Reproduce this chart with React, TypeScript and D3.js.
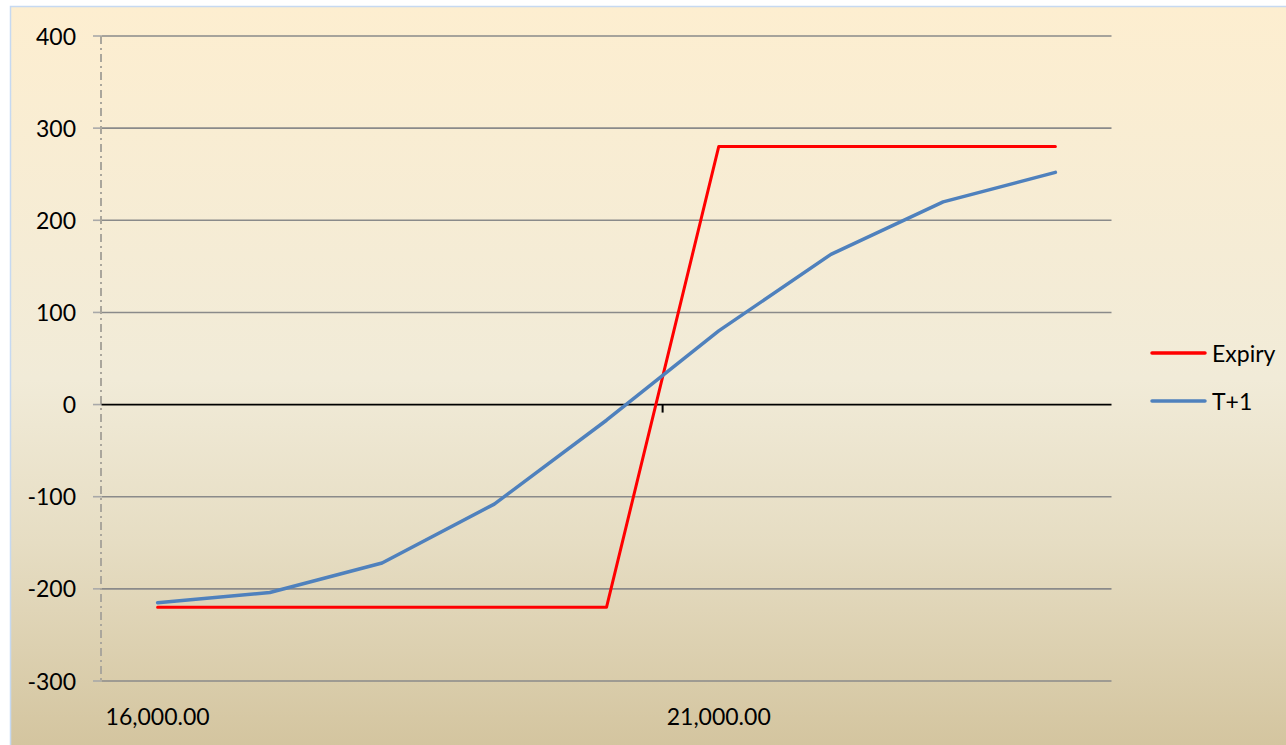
import * as d3 from 'd3';
import * as React from 'react';

const strikes = [16000, 17000, 18000, 19000, 20000, 21000, 22000, 23000, 24000];
const expiry = [-220, -220, -220, -220, -220, 280, 280, 280, 280];
const tPlus1 = [-215, -204, -172, -108, -17, 80, 163, 220, 252];
const yTicks = [-300, -200, -100, 0, 100, 200, 300, 400];
const xLabelIdx = [0, 5];
const seriesNames = ['Expiry', 'T+1'];
const seriesColors = ['#ff0000', '#4f81bd'];

const W = 1286;
const H = 745;

const PayoffChart = () => {
  const ref = React.useRef<SVGSVGElement | null>(null);

  React.useEffect(() => {
    if (!ref.current) return;
    const svg = d3.select(ref.current);
    svg.selectAll('*').remove();

    const font = 'Lato, "Open Sans", sans-serif';

    // background gradient
    const defs = svg.append('defs');
    const grad = defs
      .append('linearGradient')
      .attr('id', 'bg')
      .attr('x1', 0)
      .attr('y1', 0)
      .attr('x2', 0)
      .attr('y2', 1);
    [
      [0, '#fdeed0'],
      [0.5, '#f1ebd8'],
      [0.72, '#e6ddc3'],
      [1, '#d3c49e'],
    ].forEach(([o, c]) => grad.append('stop').attr('offset', o).attr('stop-color', c));

    svg.append('rect').attr('width', W).attr('height', H).attr('fill', '#fff');
    svg
      .append('rect')
      .attr('x', 10.5)
      .attr('y', 6.5)
      .attr('width', W)
      .attr('height', H)
      .attr('fill', 'url(#bg)')
      .attr('stroke', '#c6d9f1')
      .attr('stroke-width', 1.5);

    const x = d3.scaleBand<number>().domain(strikes).range([101.5, 1111.5]);
    const y = d3.scaleLinear().domain([-300, 400]).range([681, 36]);
    const cx = (d: number) => (x(d) as number) + x.bandwidth() / 2;

    // gridlines
    svg
      .append('g')
      .selectAll('line')
      .data(yTicks.filter((t) => t !== 0))
      .enter()
      .append('line')
      .attr('x1', 101.5)
      .attr('x2', 1111.5)
      .attr('y1', (d) => y(d))
      .attr('y2', (d) => y(d))
      .attr('stroke', '#8a8a8a')
      .attr('stroke-width', 1.6);

    // y tick marks
    svg
      .append('g')
      .selectAll('line')
      .data(yTicks)
      .enter()
      .append('line')
      .attr('x1', 93)
      .attr('x2', 101.5)
      .attr('y1', (d) => y(d))
      .attr('y2', (d) => y(d))
      .attr('stroke', '#a8a8a8')
      .attr('stroke-width', 1.6);

    // vertical axis (dash-dot)
    svg
      .append('line')
      .attr('x1', 101)
      .attr('x2', 101)
      .attr('y1', y(400))
      .attr('y2', y(-300))
      .attr('stroke', '#aaa69c')
      .attr('stroke-width', 2)
      .attr('stroke-dasharray', '8,4,2,4');

    // zero line + category tick
    svg
      .append('line')
      .attr('x1', 101.5)
      .attr('x2', 1111.5)
      .attr('y1', y(0))
      .attr('y2', y(0))
      .attr('stroke', '#000')
      .attr('stroke-width', 1.8);
    svg
      .append('line')
      .attr('x1', x(strikes[5]) as number)
      .attr('x2', x(strikes[5]) as number)
      .attr('y1', y(0))
      .attr('y2', y(0) + 8)
      .attr('stroke', '#000')
      .attr('stroke-width', 2);

    // y labels
    svg
      .append('g')
      .selectAll('text')
      .data(yTicks)
      .enter()
      .append('text')
      .attr('x', 76)
      .attr('y', (d) => y(d) + 8.5)
      .attr('text-anchor', 'end')
      .attr('font-family', font)
      .attr('font-size', 23)
      .attr('fill', '#000')
      .text((d) => String(d));

    // x labels
    svg
      .append('g')
      .selectAll('text')
      .data(xLabelIdx)
      .enter()
      .append('text')
      .attr('x', (i) => cx(strikes[i]))
      .attr('y', 725)
      .attr('text-anchor', 'middle')
      .attr('font-family', font)
      .attr('font-size', 23)
      .attr('fill', '#000')
      .text((i) => d3.format(',.2f')(strikes[i]));

    // series
    const line = d3
      .line<number>()
      .x((_, i) => cx(strikes[i]))
      .y((d) => y(d));

    [expiry, tPlus1].forEach((s, k) => {
      svg
        .append('path')
        .datum(s)
        .attr('d', line)
        .attr('fill', 'none')
        .attr('stroke', seriesColors[k])
        .attr('stroke-width', k === 0 ? 3 : 3.5)
        .attr('stroke-linejoin', 'round')
        .attr('stroke-linecap', 'round');
    });

    // legend
    const legend = svg
      .append('g')
      .selectAll('g')
      .data(seriesNames)
      .enter()
      .append('g')
      .attr('transform', (_, i) => `translate(1152, ${353 + i * 48})`);
    legend
      .append('line')
      .attr('x1', 0)
      .attr('x2', 53)
      .attr('stroke', (_, i) => seriesColors[i])
      .attr('stroke-width', 3.5)
      .attr('stroke-linecap', 'round');
    legend
      .append('text')
      .attr('x', 60)
      .attr('y', 8.5)
      .attr('font-family', font)
      .attr('font-size', 23)
      .attr('fill', '#000')
      .text((d) => d);
  }, []);

  return (
    <svg
      ref={ref}
      width={W}
      height={H}
      style={{ position: 'absolute', left: 0, top: 0, display: 'block' }}
    />
  );
};

export default function App() {
  return <PayoffChart />;
}
